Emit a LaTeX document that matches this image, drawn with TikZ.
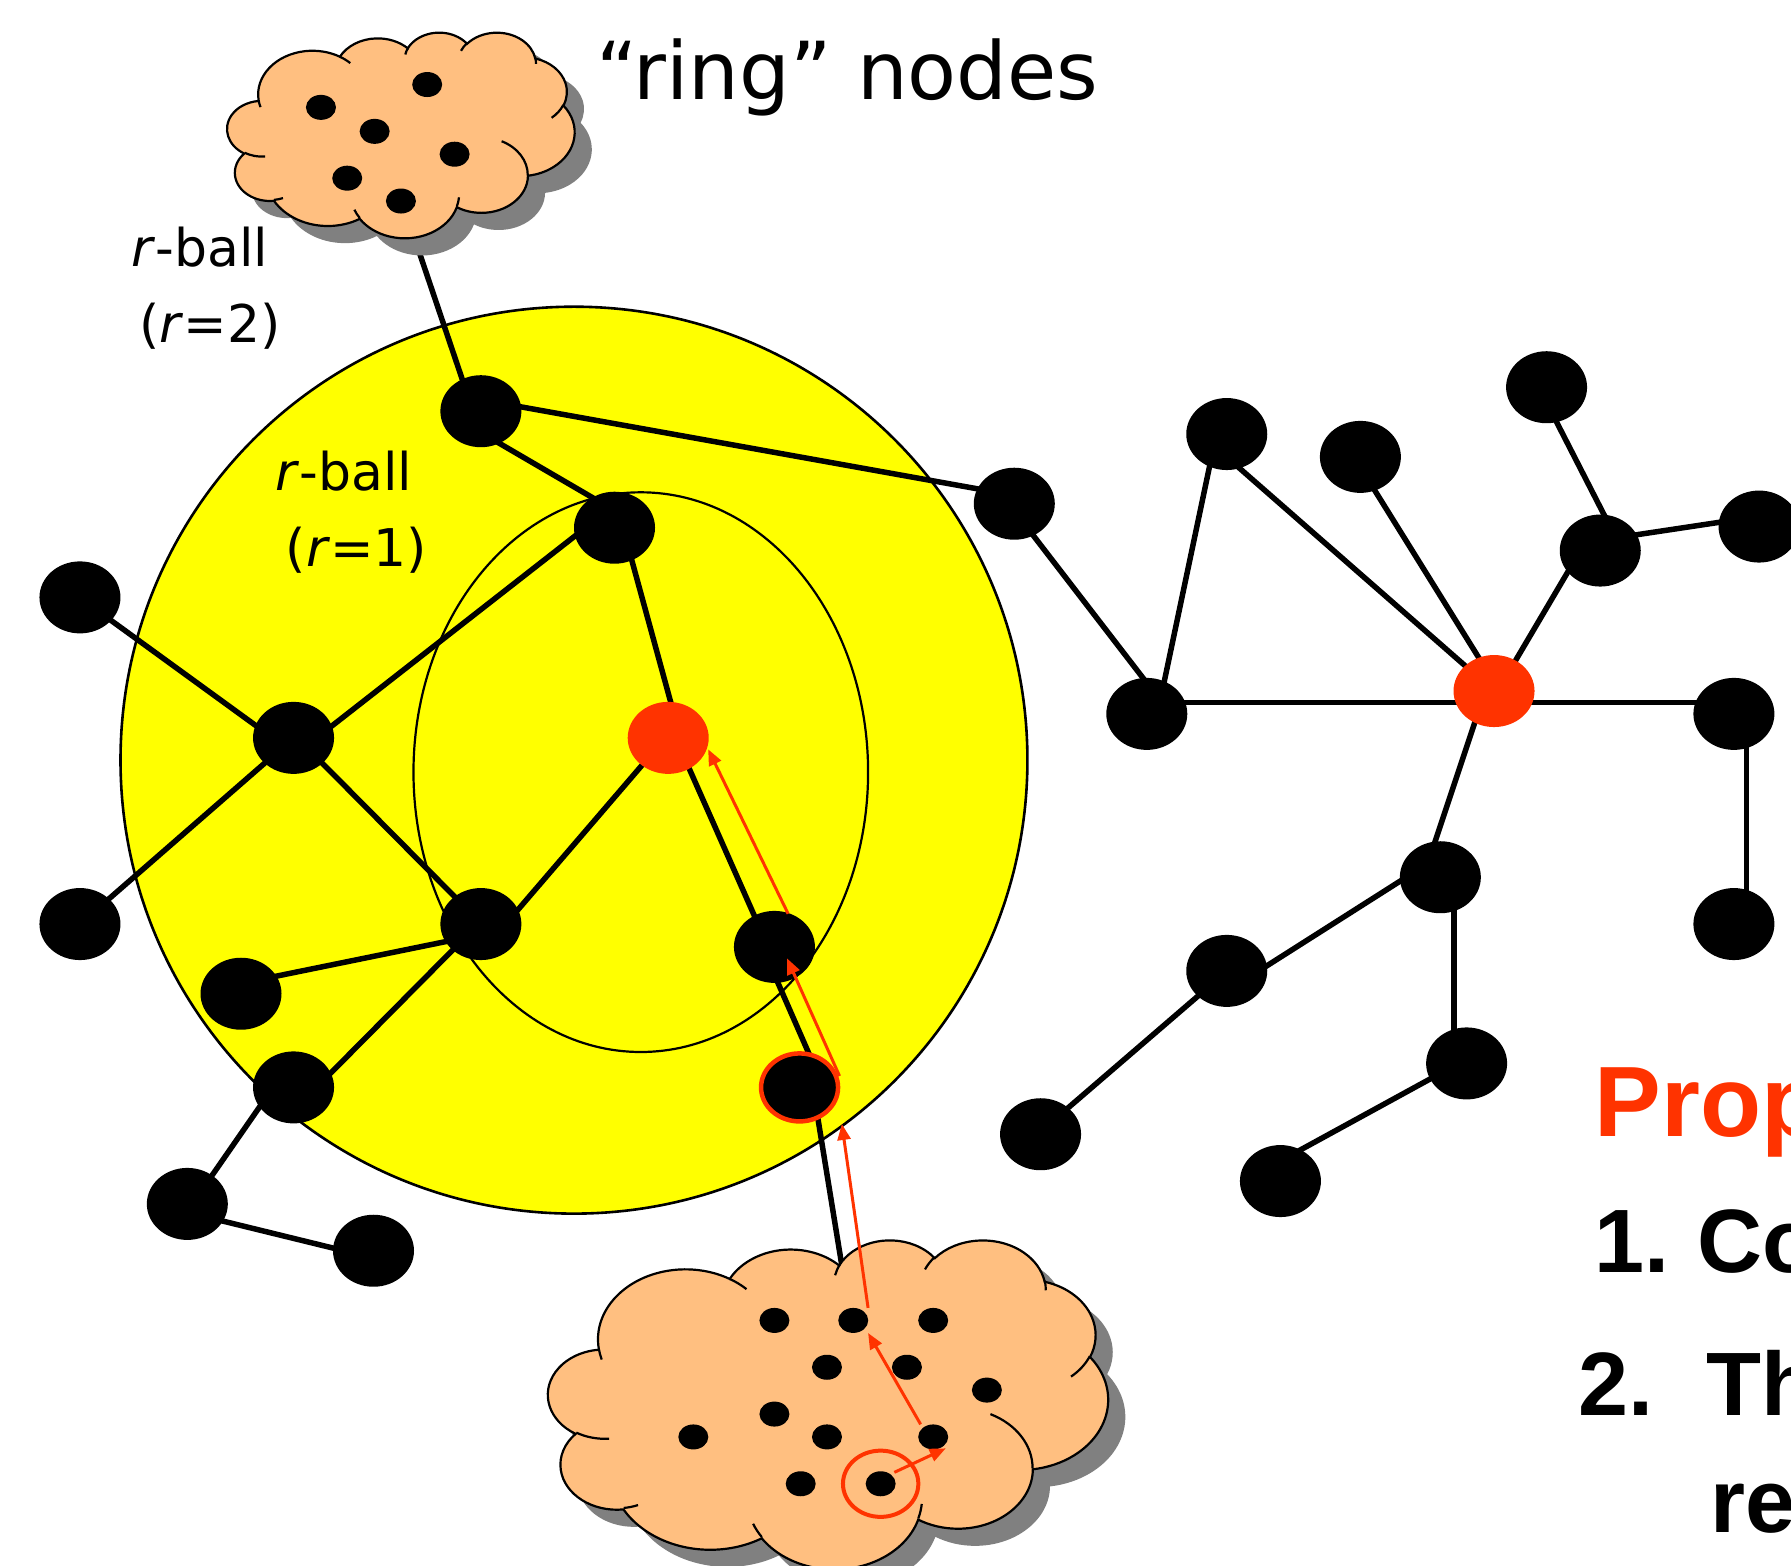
\documentclass[tikz,border=0pt]{standalone}
\usepackage{fontspec}
\setmainfont{DejaVu Sans}
\newfontfamily\propfont{Liberation Sans}
\usetikzlibrary{shapes.geometric,arrows.meta,calc}

\definecolor{ballyellow}{RGB}{255,255,0}
\definecolor{hotred}{RGB}{255,51,0}
\definecolor{cloudtan}{RGB}{255,191,128}
\definecolor{cloudshade}{RGB}{128,128,128}

\pgfdeclarelayer{back}
\pgfdeclarelayer{wires}
\pgfsetlayers{back,wires,main}

\tikzset{
  declare function={
    vang(\w,\h,\a)=atan2(\w*sin(\a),\h*cos(\a));
    dang(\w,\h,\s,\d)=(vang(\w,\h,\s+\d)-vang(\w,\h,\s))-360*round((vang(\w,\h,\s+\d)-vang(\w,\h,\s)-\d)/360);
  },
  puff/.style n args={4}{x radius=#1, y radius=#2,
    start angle={vang(#1,#2,#3)}, delta angle={dang(#1,#2,#3,#4)}},
  vertex/.style={ellipse, fill=black, inner sep=0pt, minimum width=81pt, minimum height=72pt},
  hotvertex/.style={vertex, fill=hotred},
  ringed/.style={vertex, draw=hotred, line width=4.5pt, minimum width=77pt, minimum height=68pt},
  member/.style={ellipse, fill=black, inner sep=0pt, minimum width=30pt, minimum height=25pt},
  link/.style={line width=5.5pt, shorten <=-8pt, shorten >=-8pt},
  route/.style={draw=hotred, line width=3pt, -{Triangle[length=16pt,width=13pt]}},
  lbl/.style={inner sep=0pt, anchor=base west},
}

% cloud outline on a 432 x 432 grid
\newcommand\cloudbody[1]{%
  \path[#1] (39.00,143.70)
    arc[puff={67.53}{91.90}{-190.4875}{123.7805}]
    arc[puff={53.33}{72.67}{-144.1024}{89.9452}]
    arc[puff={43.65}{59.45}{-145.8079}{99.7230}]
    arc[puff={48.57}{65.95}{-130.9861}{117.2417}]
    arc[puff={53.33}{72.73}{-78.7089}{109.0269}]
    arc[puff={67.75}{92.20}{-46.2673}{130.2690}]
    arc[puff={57.85}{78.67}{0.6250}{114.0333}]
    arc[puff={67.52}{92.15}{22.4516}{115.1726}]
    arc[puff={77.20}{105.43}{66.2426}{75.7110}]
    arc[puff={43.60}{59.18}{-274.9421}{146.7356}]
    arc[puff={43.45}{59.45}{-246.8285}{152.5189}]
    -- cycle;}
\newcommand\cloudcreases{%
  \draw[line width=2.2pt]
    (46.93,261.77) arc[puff={43.45}{59.45}{86.7420}{26.4295}]
    (69.28,348.99) arc[puff={43.60}{59.18}{73.6105}{11.4475}]
    (164.78,390.90) arc[puff={67.52}{92.15}{137.6242}{14.0811}]
    (288.27,347.51) arc[puff={67.52}{92.15}{6.4533}{15.9984}]
    (341.29,229.54) arc[puff={57.85}{78.67}{-70.2924}{70.9174}]
    (417.98,153.54) arc[puff={53.33}{72.73}{30.3180}{27.7515}]
    (383.24,54.26) arc[puff={48.57}{65.95}{-13.7443}{14.8589}]
    (290.78,39.52) arc[puff={48.57}{65.95}{-149.1815}{18.1954}]
    (221.41,47.20) arc[puff={43.65}{59.45}{-163.4943}{17.6864}]
    (140.00,51.92) arc[puff={67.53}{91.90}{-66.7070}{12.3194}]
    (41.27,157.89) arc[puff={67.53}{91.90}{157.6544}{11.8582}];}
% #1,#2: top-left corner, #3,#4: width and height
\newcommand\drawcloud[4]{%
  \begin{scope}[shift={(#1+15,#2+15)}, x=1pt, y=1pt,
      xscale={#3*1.1422/432}, yscale={-#4*1.1422/432}]
    \cloudbody{fill=cloudshade}
  \end{scope}
  \begin{scope}[shift={(#1,#2)}, x=1pt, y=1pt,
      xscale={#3*1.1422/432}, yscale={-#4*1.1422/432}]
    \cloudbody{fill=cloudtan, draw=black, line width=2.2pt}
    \cloudcreases
  \end{scope}}
% connector between two vertices, each end given as an offset from the centre
\newcommand\wire[4]{\draw[link] ($(#1.center)+(#2)$) -- ($(#3.center)+(#4)$);}

\begin{document}
\begin{tikzpicture}[x=1.1422pt, y=-1.1422pt]
\useasboundingbox (0,0) rectangle (1568,1371);

% page and the two balls
\begin{pgfonlayer}{back}
  \fill[white] (0,0) rectangle (1568,1371);
  \filldraw[fill=ballyellow, draw=black, line width=2.6pt] (502.5,665.5) circle[radius=397];
  \draw[line width=2.2pt] (561,676) ellipse[x radius=199, y radius=245];
\end{pgfonlayer}

% graph vertices
\node[vertex] (n1) at (421,360) {};
\node[vertex] (n2) at (538,462) {};
\node[vertex] (n3) at (888,441) {};
\node[hotvertex] (n4) at (585,646) {};
\node[vertex] (n5) at (257,646) {};
\node[vertex] (n6) at (70,523) {};
\node[vertex] (n7) at (70,809) {};
\node[vertex] (n8) at (421,809) {};
\node[vertex] (n9) at (211,870) {};
\node[vertex] (n10) at (257,952) {};
\node[vertex] (n11) at (678,829) {};
\node[ringed] (n12) at (700,952) {};
\node[vertex] (n13) at (164,1054) {};
\node[vertex] (n14) at (327,1095) {};
\node[vertex] (n15) at (1004,625) {};
\node[vertex] (n16) at (1074,380) {};
\node[vertex] (n17) at (1191,400) {};
\node[vertex] (n18) at (1354,339) {};
\node[vertex] (n19) at (1401,482) {};
\node[vertex] (n20) at (1540,461) {};
\node[hotvertex] (n21) at (1308,605) {};
\node[vertex] (n22) at (1518,625) {};
\node[vertex] (n23) at (1518,809) {};
\node[vertex] (n24) at (1261,768) {};
\node[vertex] (n25) at (1074,850) {};
\node[vertex] (n26) at (1284,931) {};
\node[vertex] (n27) at (911,993) {};
\node[vertex] (n28) at (1121,1034) {};

\coordinate (ctop) at (360,200);
\coordinate (cbot) at (738,1114);

% connectors
\begin{pgfonlayer}{wires}
  \wire{ctop}{0,0}{n1}{-16,-27}
  \wire{n1}{16,28}{n2}{-17,-25}
  \wire{n1}{34,-4}{n3}{-32,-13}
  \wire{n2}{-33,6}{n5}{33,-10}
  \wire{n2}{15,28}{n4}{2,-32}
  \wire{n3}{16,27}{n15}{-3,-31}
  \wire{n4}{-23,24}{n8}{32,-12}
  \wire{n4}{18,26}{n11}{-17,-26}
  \wire{n6}{27,20}{n5}{-32,-10}
  \wire{n7}{23,-20}{n5}{-24,21}
  \wire{n5}{25,22}{n8}{-21,-22}
  \wire{n9}{29,-15}{n8}{-29,15}
  \wire{n8}{-23,21}{n10}{32,-12}
  \wire{n10}{-29,16}{n13}{21,-24}
  \wire{n13}{31,15}{n14}{-34,-2}
  \wire{n11}{2,29}{n12}{8,-30}
  \wire{n12}{17,33}{cbot}{0,0}
  \wire{n15}{15,-27}{n16}{-15,28}
  \wire{n15}{0,-10}{n21}{0,10}
  \wire{n16}{9,28}{n21}{-24,-21}
  \wire{n17}{13,30}{n21}{-12,-27}
  \wire{n21}{19,-27}{n19}{-28,18}
  \wire{n19}{4,-30}{n18}{8,29}
  \wire{n19}{33,-14}{n20}{-33,-4}
  \wire{n21}{0,10}{n22}{0,-10}
  \wire{n22}{11,0}{n23}{11,0}
  \wire{n21}{-17,28}{n24}{-5,-30}
  \wire{n24}{-33,2}{n25}{36,-5}
  \wire{n24}{12,0}{n26}{-11,0}
  \wire{n25}{-24,21}{n27}{24,-23}
  \wire{n26}{-29,12}{n28}{17,-27}
\end{pgfonlayer}

% ring-node clouds
\drawcloud{199}{28}{304}{180}
\drawcloud{480}{1085}{490}{288}

\node[member] (t1) at (281,94) {};
\node[member] (t2) at (374,74) {};
\node[member] (t3) at (328,115) {};
\node[member] (t4) at (398,135) {};
\node[member] (t5) at (304,156) {};
\node[member] (t6) at (351,176) {};

\node[member] (b1) at (678,1156) {};
\node[member] (b2) at (747,1156) {};
\node[member] (b3) at (817,1156) {};
\node[member] (b4) at (724,1197) {};
\node[member] (b5) at (794,1197) {};
\node[member] (b6) at (864,1217) {};
\node[member] (b7) at (678,1238) {};
\node[member] (b8) at (607,1258) {};
\node[member] (b9) at (724,1258) {};
\node[member] (b10) at (817,1258) {};
\node[member] (b11) at (701,1299) {};
\node[member] (b12) at (771,1299) {};
\draw[hotred, line width=4pt] (b12) ellipse[x radius=33, y radius=29];

% routing path towards the red centre
\draw[route] ($(b12.center)+(12,-10)$) -- ($(b10.center)+(11,10)$);
\draw[route] ($(b10.center)+(-11,-11)$) -- ($(b2.center)+(13,11)$);
\draw[route] ($(b2.center)+(13,-11)$) -- ($(n12.center)+(37,32)$);
\draw[route] ($(n12.center)+(35,-10)$) -- ($(n11.center)+(11,10)$);
\draw[route] ($(n11.center)+(12,-29)$) -- ($(n4.center)+(35,10)$);

% labels
\node[lbl, font=\fontsize{80}{96}\selectfont] (ringlbl) at (522,87) {“ring” nodes};
\node[lbl, font=\fontsize{52}{62}\selectfont] (outerA) at (115,233) {\textit{r}-ball};
\node[lbl, font=\fontsize{52}{62}\selectfont] (outerB) at (122,300) {(\textit{r}=2)};
\node[lbl, font=\fontsize{52}{62}\selectfont] (innerA) at (241,429) {\textit{r}-ball};
\node[lbl, font=\fontsize{52}{62}\selectfont] (innerB) at (250,496) {(\textit{r}=1)};

\node[lbl, font=\propfont\bfseries\fontsize{100}{120}\selectfont, text=hotred] (prop) at (1396,995) {Prop};
\node[lbl, font=\propfont\bfseries\fontsize{90}{108}\selectfont] (itemA) at (1396,1114) {1.};
\node[lbl, font=\propfont\bfseries\fontsize{90}{108}\selectfont] (itemAtext) at (1486,1114) {Co};
\node[lbl, font=\propfont\bfseries\fontsize{90}{108}\selectfont] (itemB) at (1382,1239) {2.};
\node[lbl, font=\propfont\bfseries\fontsize{90}{108}\selectfont] (itemBtext) at (1494,1239) {Th};
\node[lbl, font=\propfont\bfseries\fontsize{90}{108}\selectfont] (itemBmore) at (1497,1342) {re};
\end{tikzpicture}
\end{document}
